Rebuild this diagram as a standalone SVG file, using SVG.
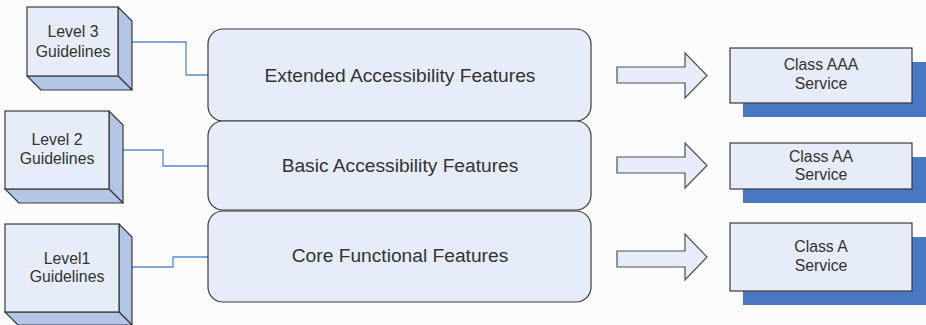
<svg xmlns="http://www.w3.org/2000/svg" width="926" height="325" viewBox="0 0 926 325">
<style>
.bg{fill:#fcfcfd}
.face{fill:#e6ecf8;stroke:#3a3a3a;stroke-width:1.2}
.side{fill:#b3c6e6;stroke:#3a3a3a;stroke-width:1.2;stroke-linejoin:round}
.layer{fill:#e6ecf8;stroke:#3a3a3a;stroke-width:1.2}
.arrow{fill:#e6ecf8;stroke:#505050;stroke-width:1.2;stroke-linejoin:miter}
.shadow{fill:#4a77c1}
.conn{fill:none;stroke:#5b8bd0;stroke-width:1.3}
.t{font-family:"Liberation Sans",Arial,sans-serif;fill:#333;text-anchor:middle}
.s14{font-size:15.8px}
.s17{font-size:19.2px}
</style>
<rect class="bg" x="0" y="0" width="926" height="325"/>

<g id="connectors">
<polyline class="conn" points="118,42 186,42 186,75 209,75"/>
<polyline class="conn" points="109,150 163,150 163,166 209,166"/>
<polyline class="conn" points="119,267 173,267 173,257 209,257"/>
</g>

<g id="level3">
<polygon class="side" points="118,7 132,21 132,90 118,76"/>
<polygon class="side" points="27,76 118,76 132,90 41,90"/>
<rect class="face" x="27" y="7" width="91" height="69"/>
<text class="t s14" x="73" y="37">Level 3</text>
<text class="t s14" x="73" y="57">Guidelines</text>
</g>

<g id="level2">
<polygon class="side" points="109,111 123,125 123,203 109,189"/>
<polygon class="side" points="5,189 109,189 123,203 19,203"/>
<rect class="face" x="5" y="111" width="104" height="78"/>
<text class="t s14" x="57" y="145">Level 2</text>
<text class="t s14" x="57" y="164">Guidelines</text>
</g>

<g id="level1">
<polygon class="side" points="119,224 132,237 132,325 119,312"/>
<polygon class="side" points="5,312 119,312 132,325 18,325"/>
<rect class="face" x="5" y="224" width="114" height="88"/>
<text class="t s14" x="67" y="264">Level1</text>
<text class="t s14" x="67" y="282">Guidelines</text>
</g>

<g id="extended">
<rect class="layer" x="208" y="29" width="383" height="92" rx="15" ry="15"/>
<text class="t s17" x="400" y="82">Extended Accessibility Features</text>
</g>

<g id="basic">
<rect class="layer" x="208" y="121" width="383" height="89" rx="15" ry="15"/>
<text class="t s17" x="400" y="172">Basic Accessibility Features</text>
</g>

<g id="core">
<rect class="layer" x="208" y="211" width="383" height="91" rx="15" ry="15"/>
<text class="t s17" x="400" y="262">Core Functional Features</text>
</g>

<g id="arrow1">
<polygon class="arrow" points="617,67 685,67 685,53 707,75.5 685,98 685,83 617,83"/>
</g>
<g id="arrow2">
<polygon class="arrow" points="617,157 685,157 685,143 707,165.5 685,188 685,173 617,173"/>
</g>
<g id="arrow3">
<polygon class="arrow" points="617,251 685,251 685,234 707,257 685,280 685,267 617,267"/>
</g>

<g id="classAAA">
<rect class="shadow" x="743" y="62" width="183" height="55"/>
<rect class="face" x="730" y="48" width="182" height="55"/>
<text class="t s14" x="821" y="70">Class AAA</text>
<text class="t s14" x="821" y="89">Service</text>
</g>

<g id="classAA">
<rect class="shadow" x="743" y="157" width="183" height="46"/>
<rect class="face" x="730" y="143" width="182" height="46"/>
<text class="t s14" x="821" y="162">Class AA</text>
<text class="t s14" x="821" y="180">Service</text>
</g>

<g id="classA">
<rect class="shadow" x="743" y="237" width="183" height="68"/>
<rect class="face" x="730" y="223" width="182" height="68"/>
<text class="t s14" x="821" y="252">Class A</text>
<text class="t s14" x="821" y="271">Service</text>
</g>
</svg>
